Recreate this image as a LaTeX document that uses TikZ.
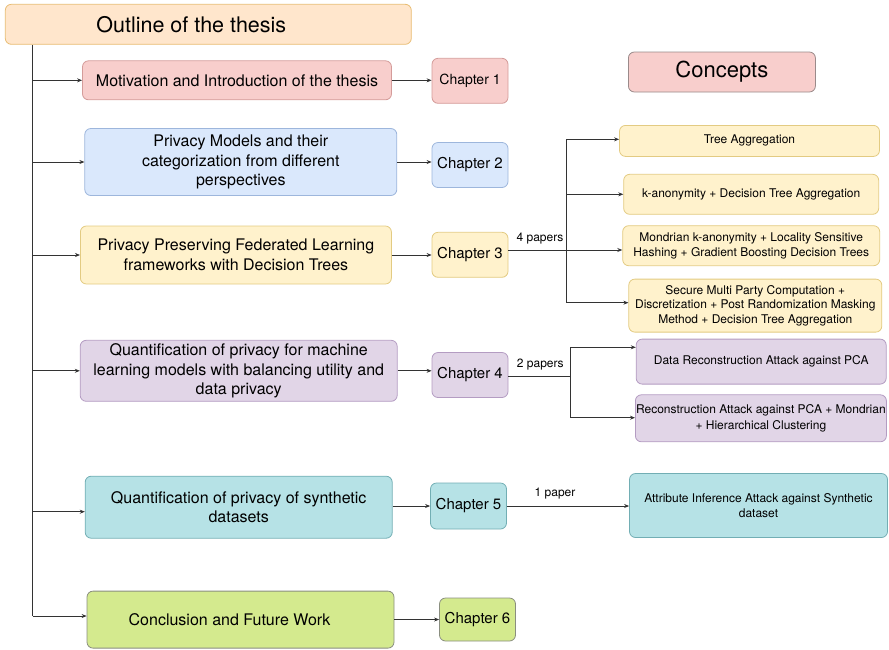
\documentclass[tikz,border=0pt]{standalone}
\usepackage{fontspec}
\setmainfont{TeX Gyre Heros}
\usetikzlibrary{arrows.meta}
\definecolor{orF}{HTML}{FFE6CC}\definecolor{orD}{HTML}{E8BC72}
\definecolor{rdF}{HTML}{F8CECC}\definecolor{rdD}{HTML}{D49C9A}
\definecolor{cpD}{HTML}{9A8A8A}
\definecolor{blF}{HTML}{DAE8FC}\definecolor{blD}{HTML}{9DB6DC}
\definecolor{ylF}{HTML}{FFF2CC}\definecolor{ylD}{HTML}{E3CB82}
\definecolor{puF}{HTML}{E1D5E7}\definecolor{puD}{HTML}{B49CC2}
\definecolor{cyF}{HTML}{B6E2E6}\definecolor{cyD}{HTML}{72AEB4}
\definecolor{grF}{HTML}{D4EA8E}\definecolor{grD}{HTML}{8A8E80}
\definecolor{ln}{HTML}{333333}
\tikzset{
  x=1pt,y=-1pt,
  box/.style={draw, rounded corners=6pt, line width=0.8pt, inner sep=1pt, align=center, text=black},
  big/.style={box, font=\fontsize{16}{19.5}\selectfont},
  chap/.style={box, font=\fontsize{15}{18}\selectfont, minimum width=76pt},
  small/.style={box, font=\fontsize{12}{14.3}\selectfont},
  lbl/.style={font=\fontsize{12}{14}\selectfont, inner sep=0pt},
  arr/.style={draw=ln, line width=0.7pt, -{Stealth[length=5pt,width=4pt]}},
  ln/.style={draw=ln, line width=0.7pt},
}
\begin{document}
\begin{tikzpicture}
\useasboundingbox (0,0) rectangle (889,649);
% left column
\node[box, fill=orF, draw=orD, minimum width=406pt, minimum height=40pt, font=\fontsize{21.5}{24}\selectfont] (outline) at (208.3,24.3) {Outline of the thesis\hspace{34pt}};
\node[big, fill=rdF, draw=rdD, minimum width=309pt, minimum height=39pt] (mot) at (237,80.3) {Motivation and Introduction of the thesis};
\node[big, fill=blF, draw=blD, minimum width=312pt, minimum height=67pt] (pm) at (240.8,162) {Privacy Models and their\\categorization from different\\perspectives};
\node[big, fill=ylF, draw=ylD, minimum width=311pt, minimum height=58pt] (ppfl) at (235.9,255) {Privacy Preserving Federated Learning\\frameworks with Decision Trees};
\node[big, fill=puF, draw=puD, minimum width=317pt, minimum height=61pt] (qml) at (238.7,370.8) {Quantification of privacy for machine\\learning models with balancing utility and\\data privacy};
\node[big, fill=cyF, draw=cyD, minimum width=307pt, minimum height=62pt] (syn) at (238.7,507.2) {Quantification of privacy of synthetic\\datasets};
\node[big, fill=grF, draw=grD, minimum width=307pt, minimum height=57pt] (concl) at (240.5,619.6) {\raisebox{-3.5pt}{Conclusion and Future Work}\hspace{22pt}};
% chapters
\node[chap, fill=rdF, draw=rdD, minimum height=45pt, font=\fontsize{14}{17}\selectfont] (ch1) at (470,80.8) {Chapter 1};
\node[chap, fill=blF, draw=blD, minimum height=45pt] (ch2) at (470,165) {Chapter 2};
\node[chap, fill=ylF, draw=ylD, minimum height=45pt] (ch3) at (470,254.8) {Chapter 3};
\node[chap, fill=puF, draw=puD, minimum height=45pt] (ch4) at (470,375) {Chapter 4};
\node[chap, fill=cyF, draw=cyD, minimum height=46pt] (ch5) at (468.5,506) {Chapter 5};
\node[chap, fill=grF, draw=grD, minimum height=43pt] (ch6) at (477.5,619.5) {Chapter 6};
% concepts
\node[box, fill=rdF, draw=cpD, minimum width=187pt, minimum height=40pt, font=\fontsize{22}{24}\selectfont] (concepts) at (721.9,72) {Concepts};
\node[small, fill=ylF, draw=ylD, minimum width=260pt, minimum height=31pt] (ta) at (749.5,140.9) {Tree Aggregation};
\node[small, fill=ylF, draw=ylD, minimum width=255pt, minimum height=40pt] (ka) at (751.2,194.3) {k-anonymity + Decision Tree Aggregation};
\node[small, fill=ylF, draw=ylD, minimum width=257pt, minimum height=40pt] (mo) at (751.2,245.7) {Mondrian k-anonymity + Locality Sensitive\\Hashing + Gradient Boosting Decision Trees};
\node[small, fill=ylF, draw=ylD, minimum width=253pt, minimum height=53pt] (smpc) at (755.3,305.6) {Secure Multi Party Computation +\\Discretization + Post Randomization Masking\\Method + Decision Tree Aggregation};
\node[small, fill=puF, draw=puD, minimum width=250pt, minimum height=45pt] (dra) at (761.2,361.6) {Data Reconstruction Attack against PCA};
\node[small, fill=puF, draw=puD, minimum width=251pt, minimum height=47pt, font=\fontsize{12}{15.5}\selectfont, inner sep=0pt] (rpca) at (760.9,418.3) {Reconstruction Attack against PCA + Mondrian\\+ Hierarchical Clustering};
\node[small, fill=cyF, draw=cyD, minimum width=258pt, minimum height=64pt, font=\fontsize{12}{15}\selectfont] (attr) at (758.5,505.5) {Attribute Inference Attack against Synthetic\\dataset};
% labels
\node[lbl] (l4) at (540,239) {4 papers};
\node[lbl] (l2) at (540.3,364.3) {2 papers};
\node[lbl] (l1) at (555,493.3) {1 paper};
% trunk
\coordinate (tt) at (32.5,44.3);
\coordinate (tb) at (32.5,616);
\draw[ln] (outline.south -| tt) -- (tb);
\draw[arr] (mot.west -| tt) -- (mot.west);
\draw[arr] (pm.west -| tt) -- (pm.west);
\draw[arr] (ppfl.west -| tt) -- (ppfl.west);
\draw[arr] (qml.west -| tt) -- (qml.west);
\draw[arr] ([yshift=-4.5pt]syn.west -| tt) -- ([yshift=-4.5pt]syn.west);
\draw[arr] (tb) -- (tb -| concl.west);
% box to chapter
\draw[arr] (mot.east) -- (mot.east -| ch1.west);
\draw[arr] (pm.east) -- (pm.east -| ch2.west);
\draw[arr] (ppfl.east) -- (ppfl.east -| ch3.west);
\draw[arr] (qml.east) -- (qml.east -| ch4.west);
\draw[arr] (ch5.west -| syn.east) -- (ch5.west);
\draw[arr] (ch6.west -| concl.east) -- (ch6.west);
% chapter 3 branches
\coordinate (b3) at (566.7,250);
\coordinate (b3t) at (566.7,139.3);
\coordinate (b3b) at (566.7,302.7);
\draw[ln] (ch3.east |- b3) -- (b3);
\draw[ln] (b3t) -- (b3b);
\draw[arr] (b3t) -- (b3t -| ta.west);
\draw[arr] (b3t |- ka.west) -- (ka.west);
\draw[arr] (b3) -- (b3 -| mo.west);
\draw[arr] (b3b) -- (b3b -| smpc.west);
% chapter 4 branches
\coordinate (b4) at (570.7,376.7);
\coordinate (b4t) at (570.7,347.3);
\coordinate (b4b) at (570.7,417.7);
\draw[ln] (ch4.east |- b4) -- (b4);
\draw[ln] (b4t) -- (b4b);
\draw[arr] (b4t) -- (b4t -| dra.west);
\draw[arr] (b4b) -- (b4b -| rpca.west);
% chapter 5
\draw[arr] (ch5.east) -- (ch5.east -| attr.west);
\end{tikzpicture}
\end{document}
